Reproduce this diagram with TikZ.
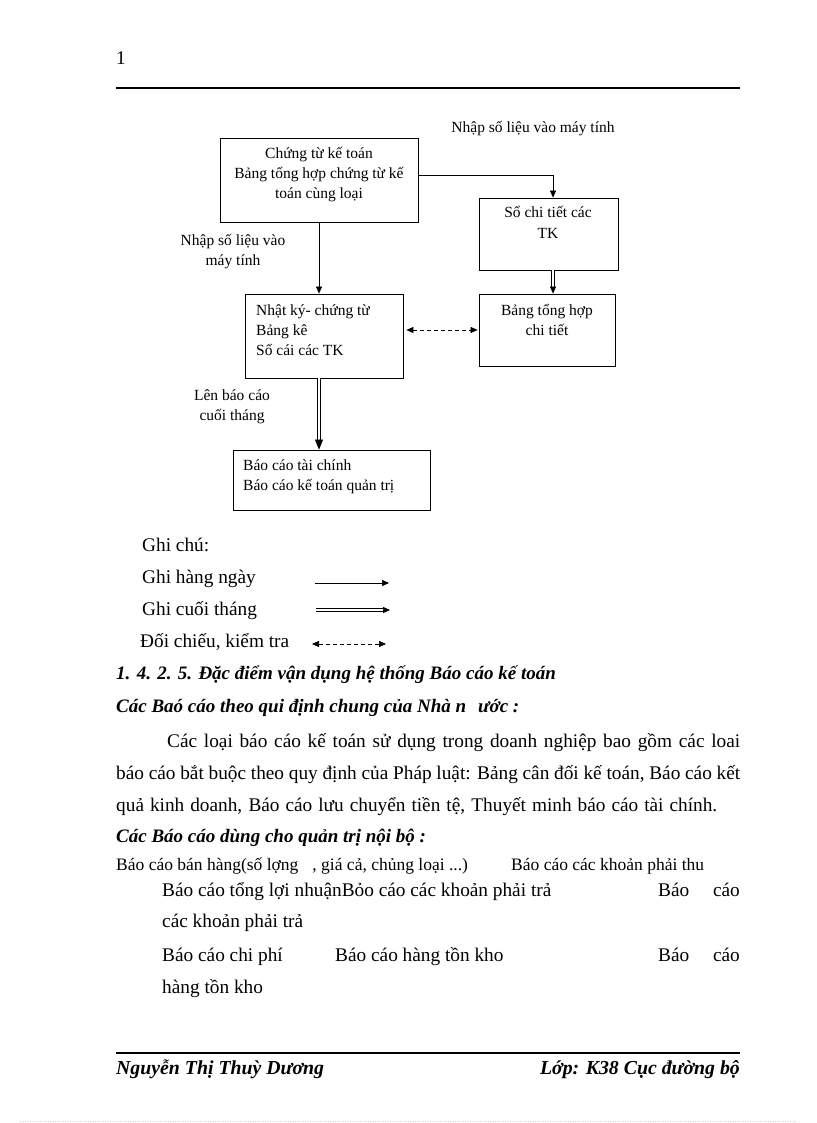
\documentclass[tikz,border=0pt]{standalone}
\usepackage{fontspec}
\setmainfont{Liberation Serif}
\usetikzlibrary{arrows.meta,calc}
\newcommand\dgmfont{\fontsize{15.5}{20}\selectfont}
\newcommand\bodyfnt{\fontsize{19.3}{24}\selectfont}
\newcommand\headfnt{\fontsize{19.0}{24}\selectfont}
\newcommand\footfnt{\fontsize{19.8}{24}\selectfont}
\newcommand\smallfnt{\fontsize{17.5}{20}\selectfont}
\tikzset{
  box/.style={draw, line width=0.8pt, inner sep=0pt, rectangle},
  dt/.style={font=\dgmfont, inner sep=0pt, anchor=base},
  dtl/.style={font=\dgmfont, inner sep=0pt, anchor=base west},
  bt/.style={font=\bodyfnt, inner sep=0pt, anchor=base west},
  btr/.style={font=\bodyfnt, inner sep=0pt, anchor=base east},
  hd/.style={font=\headfnt\bfseries\itshape, inner sep=0pt, anchor=base west},
  ft/.style={font=\footfnt\bfseries\itshape, inner sep=0pt, anchor=base west},
  ftr/.style={font=\footfnt\bfseries\itshape, inner sep=0pt, anchor=base east},
  sm/.style={font=\smallfnt, inner sep=0pt, anchor=base west},
  arr/.style={line width=0.7pt, -{Triangle[length=7pt,width=6pt]}},
  bigtip/.style={line width=0.7pt, -{Triangle[length=10pt,width=8pt]}},
  dbl/.style={double, double distance=1.8pt, line width=0.8pt},
  chk/.style={line width=0.7pt, dash pattern=on 4pt off 3pt,
    {Triangle[length=7pt,width=6pt]}-{Triangle[length=7pt,width=6pt]}},
  rule/.style={line width=2.4pt},
}
\begin{document}
\begin{tikzpicture}[x=1pt,y=-1pt]
\useasboundingbox[fill=white] (0,0) rectangle (816,1123);

% header
\node[bt] (pg) at (116,65) {1};
\coordinate (hl) at (116,88);
\coordinate (hr) at (740,88);
\draw[rule] (hl) -- (hr);

% diagram boxes
\node[box, minimum width=198pt, minimum height=84pt] (b1) at (319,180) {};
\node[box, minimum width=139pt, minimum height=72pt] (b2) at (548.5,234) {};
\node[box, minimum width=158pt, minimum height=84pt] (b3) at (324,336) {};
\node[box, minimum width=136pt, minimum height=72pt] (b4) at (547,330) {};
\node[box, minimum width=197pt, minimum height=60pt] (b5) at (331.5,480) {};

% box texts
\node[dt] (t11) at (319,159) {Chứng từ kế toán};
\node[dt] (t12) at (319,179) {Bảng tổng hợp chứng từ kế};
\node[dt] (t13) at (319,199) {toán cùng loại};
\node[dt] (t21) at (548,218) {Sổ chi tiết các};
\node[dt] (t22) at (548,238) {TK};
\node[dtl] (t31) at (256,315) {Nhật ký- chứng từ};
\node[dtl] (t32) at (256,335) {Bảng kê};
\node[dtl] (t33) at (256,355) {Sổ cái các TK};
\node[dt] (t41) at (547,315) {Bảng tổng hợp};
\node[dt] (t42) at (547,335) {chi tiết};
\node[dtl] (t51) at (243,470) {Báo cáo tài chính};
\node[dtl] (t52) at (243,490) {Báo cáo kế toán quản trị};

% labels
\node[dt] (l1) at (533,133) {Nhập số liệu vào máy tính};
\node[dt] (l21) at (233,245) {Nhập số liệu vào};
\node[dt] (l22) at (233,265) {máy tính};
\node[dt] (l31) at (232,400) {Lên báo cáo};
\node[dt] (l32) at (232,420) {cuối tháng};

% connectors
\draw[arr] ([yshift=5pt]b1.east) -| ([xshift=4.5pt]b2.north);
\draw[arr] (b1.south) -- (b1.south |- b3.north);
\coordinate (c2) at ([xshift=4.5pt]b2.south);
\coordinate (c4) at (c2 |- b4.north);
\draw[dbl, shorten >=6pt] (c2) -- (c4);
\draw[arr] ([yshift=7pt]c4) -- (c4);
\coordinate (c3) at ([xshift=-5pt]b3.south);
\coordinate (c5) at (c3 |- b5.north);
\draw[dbl, line width=0.9pt, double distance=2pt, shorten >=9pt] (c3) -- (c5);
\draw[bigtip] ([yshift=10pt]c5) -- (c5);
\draw[chk, shorten <=3pt, shorten >=1pt] (b4.west -| b3.east) -- (b4.west);

% legend
\node[bt] (g0) at (142,551) {Ghi chú:};
\node[bt] (g1) at (142,583) {Ghi hàng ngày};
\node[bt] (g2) at (142,615) {Ghi cuối tháng};
\node[bt] (g3) at (140,647) {Đối chiếu, kiểm tra};
\coordinate (a1s) at (315,583); \coordinate (a1e) at (389,583);
\coordinate (a2s) at (316,610); \coordinate (a2e) at (390,610);
\coordinate (a3s) at (312,644); \coordinate (a3e) at (386,644);
\draw[arr] (a1s) -- (a1e);
\draw[dbl, shorten >=6pt] (a2s) -- (a2e);
\draw[arr] ([xshift=-7pt]a2e) -- (a2e);
\draw[chk] (a3s) -- (a3e);

% headings
\node[hd] (h1) at (116,679) {1. 4. 2. 5. Đặc điểm vận dụng hệ thống Báo cáo kế toán};
\node[hd] (h2) at (116,712) {Các Baó cáo theo qui định chung của Nhà n\hspace{12pt}ước :};

% paragraph
\node[bt] (p1) at (167,747) {\makebox[573pt][s]{Các loại báo cáo kế toán sử dụng trong doanh nghiệp bao gồm các loai}};
\node[bt] (p2) at (116,779) {\makebox[624pt][s]{báo cáo bắt buộc theo quy định của Pháp luật: Bảng cân đối kế toán, Báo cáo kết}};
\node[bt] (p3) at (116,811) {\makebox[601pt][s]{quả kinh doanh, Báo cáo lưu chuyển tiền tệ, Thuyết minh báo cáo tài chính.}};
\node[hd] (h3) at (116,842) {Các Báo cáo dùng cho quản trị nội bộ :};

% list
\node[sm] (s1) at (116,870) {Báo cáo bán hàng(số lợng\hspace{14pt}, giá cả, chủng loại ...)};
\node[sm] (s2) at (511,870) {Báo cáo các khoản phải thu};
\node[bt] (r1) at (162,896) {Báo cáo tổng lợi nhuậnBỏo cáo các khoản phải trả};
\node[bt] (r1b) at (658,896) {Báo};
\node[btr] (r1c) at (740,896) {cáo};
\node[bt] (r2) at (162,927) {các khoản phải trả};
\node[bt] (r3) at (162,961) {Báo cáo chi phí};
\node[bt] (r3a) at (335,961) {Báo cáo hàng tồn kho};
\node[bt] (r3b) at (658,961) {Báo};
\node[btr] (r3c) at (740,961) {cáo};
\node[bt] (r4) at (162,993) {hàng tồn kho};

% footer
\coordinate (fl) at (116,1053);
\coordinate (fr) at (740,1053);
\draw[rule] (fl) -- (fr);
\node[ft] (f1) at (116,1074) {Nguyễn Thị Thuỳ Dương};
\node[ftr] (f2) at (740,1074) {Lớp: K38 Cục đường bộ};

% faint page edge
\coordinate (el) at (20,1121);
\coordinate (er) at (796,1121);
\draw[gray!35, dotted, line width=0.5pt] (el) -- (er);
\end{tikzpicture}
\end{document}
